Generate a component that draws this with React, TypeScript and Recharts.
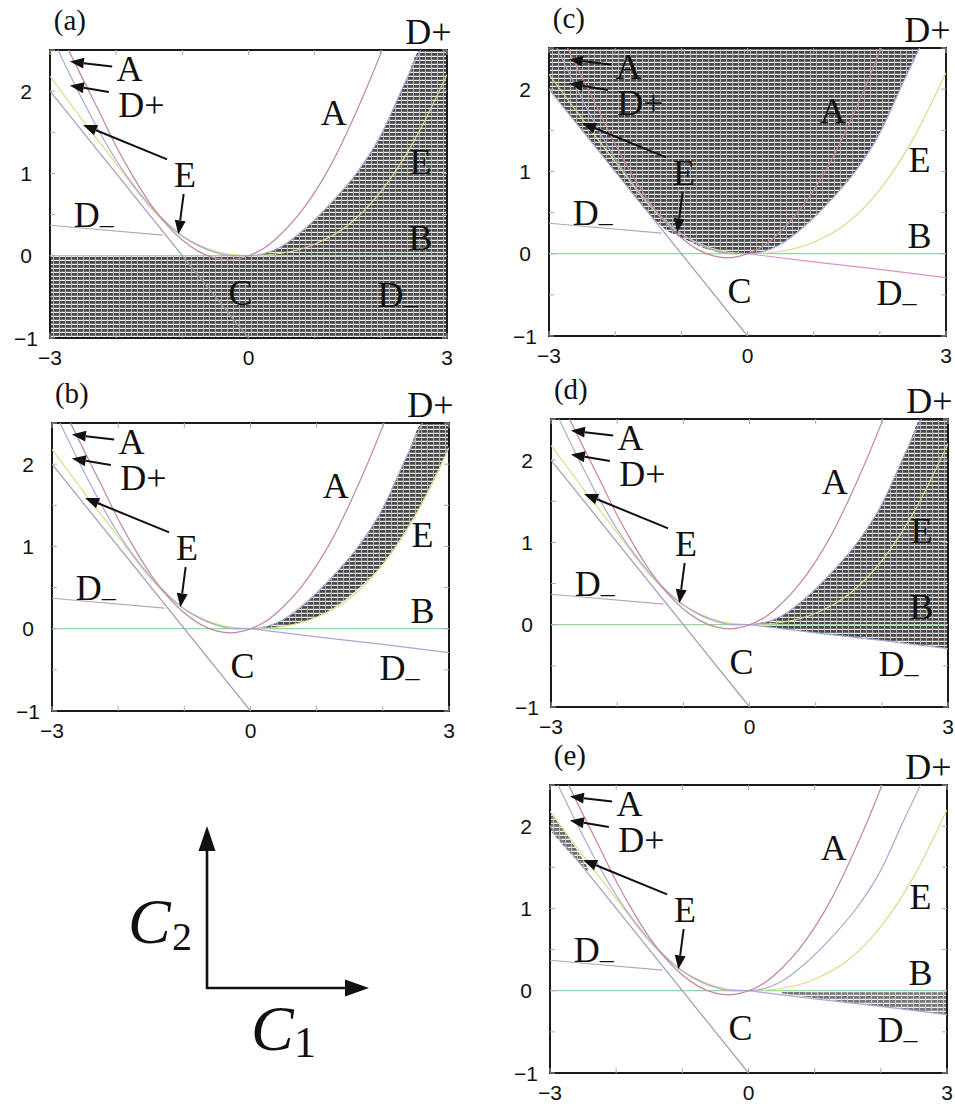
import React from "react";
import {
  ComposedChart, Line, Area, XAxis, YAxis,
  ReferenceLine, ReferenceDot, ReferenceArea,
} from "recharts";

// axes
const xTicks = [-3, -2, -1, 0, 1, 2, 3];
const xTickLabels = ["\u22123", "", "", "0", "", "", "3"];
const yTicks = [-1, -0.5, 0, 0.5, 1, 1.5, 2, 2.5];
const yTickLabels = ["\u22121", "", "0", "", "1", "", "2", ""];

// curve A
const aX = [-2.72, -2.5, -2.25, -2.0, -1.75, -1.5, -1.25, -1.0, -0.75, -0.5, -0.3, -0.15, 0, 0.25, 0.5, 0.75, 1.0, 1.25, 1.5, 1.75, 2.02];
const aY = [2.5, 2.14, 1.74, 1.33, 0.97, 0.65, 0.39, 0.19, 0.05, -0.03, -0.05, -0.035, 0, 0.1, 0.27, 0.49, 0.77, 1.11, 1.52, 1.97, 2.5];

// curve D+
const dpX = [-2.88, -2.5, -2.25, -2.0, -1.75, -1.5, -1.25, -1.0, -0.75, -0.5, -0.25, 0, 0.47, 0.87, 1.27, 1.62, 1.97, 2.375, 2.6];
const dpY = [2.5, 1.88, 1.5, 1.16, 0.87, 0.62, 0.41, 0.24, 0.12, 0.04, 0.0, 0, 0.1, 0.34, 0.66, 0.99, 1.42, 2.12, 2.5];

// curve E
const eX = [-3, -2.5, -2.0, -1.5, -1.2, -1.0, -0.8, -0.6, -0.4, -0.2, 0, 0.5, 1.0, 1.5, 2.0, 2.5, 3.0];
const eY = [2.18, 1.64, 1.12, 0.6, 0.36, 0.24, 0.15, 0.08, 0.035, 0.01, 0, 0.03, 0.14, 0.37, 0.78, 1.39, 2.2];

// line bounding region C
const lX = [-3, 0];
const lY = [2, -1];

// D_ (two pieces)
const dmLeftX = [-3, -1.3];
const dmLeftY = [0.37, 0.25];
const dmRightX = [0, 1, 2, 3];
const dmRightY = [0, -0.1, -0.19, -0.29];

// C2 = 0
const gX = [-3, 3];
const gY = [0, 0];

// shaded regions, per panel
const shadeAX = [-3, 0, 0.47, 0.87, 1.27, 1.62, 1.97, 2.375, 2.6, 3];
const shadeALo = [-1, -1, -1, -1, -1, -1, -1, -1, -1, -1];
const shadeAHi = [0, 0, 0.1, 0.34, 0.66, 0.99, 1.42, 2.12, 2.5, 2.5];

const shadeBX = [0.2, 0.47, 0.87, 1.27, 1.62, 1.97, 2.375, 2.6, 3];
const shadeBLo = [0.005, 0.025, 0.1, 0.26, 0.48, 0.76, 1.23, 1.53, 2.2];
const shadeBHi = [0.02, 0.1, 0.34, 0.66, 0.99, 1.42, 2.12, 2.5, 2.5];

const shadeCX = [-3, -2.5, -2, -1.5, -1.25, -1.0, -0.75, -0.5, -0.25, 0, 0.47, 0.87, 1.27, 1.62, 1.97, 2.375, 2.6];
const shadeCLo = [2.0, 1.5, 1.0, 0.5, 0.3, 0.2, 0.1, 0.03, 0.0, 0, 0.1, 0.34, 0.66, 0.99, 1.42, 2.12, 2.5];
const shadeCHi = [2.5, 2.5, 2.5, 2.5, 2.5, 2.5, 2.5, 2.5, 2.5, 2.5, 2.5, 2.5, 2.5, 2.5, 2.5, 2.5, 2.5];

const shadeDX = [0, 0.47, 0.87, 1.27, 1.62, 1.97, 2.375, 2.6, 3];
const shadeDLo = [0, -0.045, -0.085, -0.125, -0.16, -0.19, -0.23, -0.25, -0.29];
const shadeDHi = [0, 0.1, 0.34, 0.66, 0.99, 1.42, 2.12, 2.5, 2.5];

const shadeE1X = [0.5, 1, 1.5, 2, 2.5, 3];
const shadeE1Lo = [-0.03, -0.09, -0.14, -0.19, -0.24, -0.29];
const shadeE1Hi = [-0.01, -0.02, -0.02, -0.02, -0.02, -0.02];
const shadeE2X = [-3, -2.75, -2.43];
const shadeE2Lo = [1.95, 1.72, 1.45];
const shadeE2Hi = [2.18, 1.9, 1.5];

// region labels
const labelText = ["A", "D+", "E", "D_", "A", "E", "B", "C", "D_", "D+"];
const labelX = [-1.8, -1.62, -0.96, -2.34, 1.29, 2.6, 2.6, -0.12, 2.25, 2.72];
const labelY = [2.27, 1.83, 0.98, 0.49, 1.73, 1.14, 0.22, -0.45, -0.48, 2.72];

// annotation arrows: tail -> tip
const arrowX1 = [-2.06, -2.11, -1.23, -0.98];
const arrowY1 = [2.3, 1.99, 1.17, 0.75];
const arrowX2 = [-2.7, -2.7, -2.5, -1.06];
const arrowY2 = [2.36, 2.07, 1.59, 0.26];

const pts = (xs: number[], ys: number[]) => xs.map((x, i) => ({ x, y: ys[i] }));
const band = (xs: number[], lo: number[], hi: number[]) =>
  xs.map((x, i) => ({ x, r: [lo[i], hi[i]] }));

const BOX_W = 397;
const BOX_H = 288;
const ML = 50;
const MT = 45;
const MR = 8;
const XH = 30;
const CW = ML + BOX_W + MR;
const CH = MT + BOX_H + XH;

const SERIF = "'Liberation Serif', 'Times New Roman', serif";
const SANS = "'Liberation Sans', Arial, sans-serif";

const colors = {
  A: "#c08898",
  Dp: "#a8a8d8",
  E: "#dada8c",
  L: "#9c9cb4",
  G: "#98d4a4",
  Dm: "#b4a8b8",
};

function renderXTick(p: any) {
  const i = xTicks.indexOf(p.payload.value);
  const { x, y } = p;
  return (
    <g>
      <line x1={x} x2={x} y1={y} y2={y - 5} stroke="#aaa" />
      <line x1={x} x2={x} y1={y - BOX_H} y2={y - BOX_H + 5} stroke="#aaa" />
      <text x={x} y={y + 19} textAnchor="middle" dominantBaseline="central"
        fontFamily={SANS} fontSize={21} fill="#111">{xTickLabels[i]}</text>
    </g>
  );
}

function renderYTick(p: any) {
  const i = yTicks.indexOf(p.payload.value);
  const { x, y } = p;
  return (
    <g>
      <line x1={x} x2={x + 5} y1={y} y2={y} stroke="#aaa" />
      <line x1={x + BOX_W} x2={x + BOX_W - 5} y1={y} y2={y} stroke="#aaa" />
      <text x={x - 24} y={y} textAnchor="middle" dominantBaseline="central"
        fontFamily={SANS} fontSize={21} fill="#111">{yTickLabels[i]}</text>
    </g>
  );
}

function Arrow(p: any) {
  const { x1, y1, x2, y2 } = p;
  const dx = x2 - x1;
  const dy = y2 - y1;
  const len = Math.sqrt(dx * dx + dy * dy) || 1;
  const ux = dx / len;
  const uy = dy / len;
  const hl = 14;
  const hw = 5.5;
  const bx = x2 - ux * hl;
  const by = y2 - uy * hl;
  return (
    <g>
      <line x1={x1} y1={y1} x2={bx} y2={by} stroke="#111" strokeWidth={2} />
      <polygon
        points={`${x2},${y2} ${bx - uy * hw},${by + ux * hw} ${bx + uy * hw},${by - ux * hw}`}
        fill="#111"
      />
    </g>
  );
}

function RegionLabel({ cx, cy, text }: { cx: number; cy: number; text: string }) {
  if (text === "D_") {
    return (
      <text x={cx} y={cy} textAnchor="middle" dominantBaseline="central"
        fontFamily={SERIF} fontSize={36} fill="#111">
        D<tspan fontSize={28} dy={8}>{"\u2013"}</tspan>
      </text>
    );
  }
  return (
    <text x={cx} y={cy} textAnchor="middle" dominantBaseline="central"
      fontFamily={SERIF} fontSize={36} fill="#111">{text}</text>
  );
}

type Shade = { data: { x: number; r: number[] }[]; opacity?: number };

function Panel({ id, left, top, tag, shades, dmRightColor }: {
  id: string; left: number; top: number; tag: string; shades: Shade[]; dmRightColor: string;
}) {
  return (
    <div style={{ position: "absolute", left: left - ML, top: top - MT }}>
      <ComposedChart width={CW} height={CH} margin={{ top: MT, right: MR, bottom: 0, left: 0 }}>
        <defs>
          <pattern id={`hatch-${id}`} width={6} height={4} patternUnits="userSpaceOnUse">
            <rect width={6} height={4} fill="#4a4a4a" />
            <rect y={2.8} width={6} height={1.2} fill="#f4f4f4" />
            <rect x={5} width={1} height={4} fill="#b4b4b4" />
          </pattern>
        </defs>
        <XAxis type="number" dataKey="x" domain={[-3, 3]} ticks={xTicks} interval={0}
          height={XH} axisLine={false} tickLine={false} tickSize={0} tickMargin={0}
          tick={renderXTick} allowDataOverflow />
        <YAxis type="number" domain={[-1, 2.5]} ticks={yTicks} interval={0}
          width={ML} axisLine={false} tickLine={false} tickSize={0} tickMargin={0}
          tick={renderYTick} allowDataOverflow />
        {shades.map((s, i) => (
          <Area key={`s${i}`} data={s.data} dataKey="r" type="monotone" stroke="none"
            fill={`url(#hatch-${id})`} fillOpacity={s.opacity ?? 1} isAnimationActive={false} />
        ))}
        <Line data={pts(gX, gY)} dataKey="y" type="linear" stroke={colors.G} strokeWidth={1.2} dot={false} isAnimationActive={false} />
        <Line data={pts(dmLeftX, dmLeftY)} dataKey="y" type="linear" stroke={colors.Dm} strokeWidth={1.2} dot={false} isAnimationActive={false} />
        <Line data={pts(dmRightX, dmRightY)} dataKey="y" type="monotone" stroke={dmRightColor} strokeWidth={1.2} dot={false} isAnimationActive={false} />
        <Line data={pts(lX, lY)} dataKey="y" type="linear" stroke={colors.L} strokeWidth={1.2} dot={false} isAnimationActive={false} />
        <Line data={pts(eX, eY)} dataKey="y" type="monotone" stroke={colors.E} strokeWidth={1.2} dot={false} isAnimationActive={false} />
        <Line data={pts(dpX, dpY)} dataKey="y" type="monotone" stroke={colors.Dp} strokeWidth={1.2} dot={false} isAnimationActive={false} />
        <Line data={pts(aX, aY)} dataKey="y" type="monotone" stroke={colors.A} strokeWidth={1.2} dot={false} isAnimationActive={false} />
        {arrowX1.map((x1, i) => (
          <ReferenceLine key={`ar${i}`} ifOverflow="visible"
            segment={[{ x: x1, y: arrowY1[i] }, { x: arrowX2[i], y: arrowY2[i] }]}
            shape={(p: any) => <Arrow {...p} />} />
        ))}
        {labelText.map((t, i) => (
          <ReferenceDot key={`lb${i}`} x={labelX[i]} y={labelY[i]} r={0} ifOverflow="visible"
            shape={(p: any) => <RegionLabel cx={p.cx} cy={p.cy} text={t} />} />
        ))}
        <ReferenceDot x={-2.7} y={2.87} r={0} ifOverflow="visible"
          shape={(p: any) => (
            <text x={p.cx} y={p.cy} textAnchor="middle" dominantBaseline="central"
              fontFamily={SERIF} fontSize={29} fill="#111">{tag}</text>
          )} />
        <ReferenceArea x1={-3} x2={3} y1={-1} y2={2.5} fill="none" fillOpacity={0}
          stroke="#1a1a1a" strokeWidth={2} ifOverflow="visible" />
      </ComposedChart>
    </div>
  );
}

function AxesSketch() {
  return (
    <svg width={260} height={280} style={{ position: "absolute", left: 110, top: 800 }}>
      <g transform="translate(-110,-800)">
        <line x1={207} y1={989} x2={207} y2={848} stroke="#111" strokeWidth={2.6} />
        <polygon points="207,826 198.5,851 215.5,851" fill="#111" />
        <line x1={206} y1={988} x2={348} y2={988} stroke="#111" strokeWidth={2.6} />
        <polygon points="369,988 345,979.5 345,996.5" fill="#111" />
        <text x={128} y={943} fontFamily={SERIF} fontStyle="italic" fontSize={64} fill="#111">C</text>
        <text x={172} y={950} fontFamily={SERIF} fontSize={40} fill="#111">2</text>
        <text x={251} y={1050} fontFamily={SERIF} fontStyle="italic" fontSize={64} fill="#111">C</text>
        <text x={294} y={1057} fontFamily={SERIF} fontSize={44} fill="#111">1</text>
      </g>
    </svg>
  );
}

export default function App() {
  return (
    <div style={{ position: "absolute", left: 0, top: 0, width: 955, height: 1106, overflow: "hidden", background: "#fff" }}>
      <Panel id="a" left={50} top={50} tag="(a)" dmRightColor="none"
        shades={[{ data: band(shadeAX, shadeALo, shadeAHi) }]} />
      <Panel id="b" left={52} top={423} tag="(b)" dmRightColor="#a8a8d4"
        shades={[{ data: band(shadeBX, shadeBLo, shadeBHi) }]} />
      <Panel id="c" left={549} top={48} tag="(c)" dmRightColor="#e090c8"
        shades={[{ data: band(shadeCX, shadeCLo, shadeCHi) }]} />
      <Panel id="d" left={551} top={419} tag="(d)" dmRightColor="#a8a8d4"
        shades={[{ data: band(shadeDX, shadeDLo, shadeDHi) }]} />
      <Panel id="e" left={550} top={785} tag="(e)" dmRightColor="#a8a8d4"
        shades={[
          { data: band(shadeE1X, shadeE1Lo, shadeE1Hi), opacity: 0.75 },
          { data: band(shadeE2X, shadeE2Lo, shadeE2Hi), opacity: 0.8 },
        ]} />
      <AxesSketch />
    </div>
  );
}
